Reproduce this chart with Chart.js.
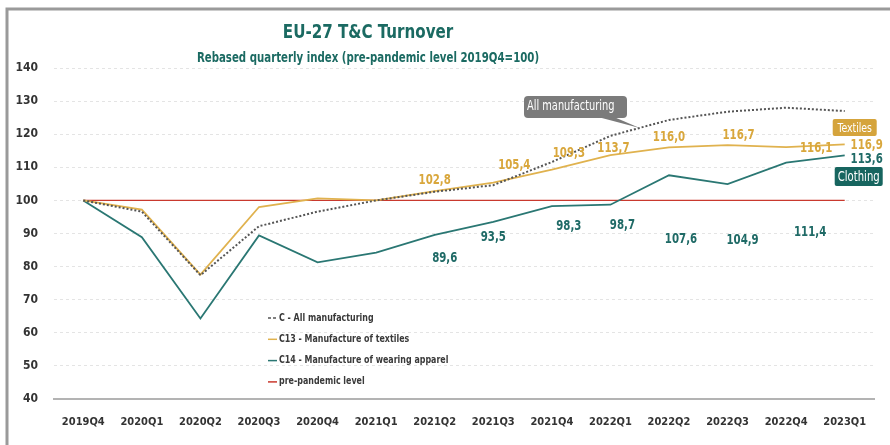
<!DOCTYPE html>
<html lang="en">
<head>
    <meta charset="UTF-8">
    <title>EU-27 T&amp;C Turnover</title>
    <style>
        body { margin: 0; background: #fff; }
        #wrap { width: 890px; height: 445px; }
    </style>
</head>
<body>
    <div id="wrap">
        <canvas id="myChart" width="890" height="445"></canvas>
    </div>

    <script src="https://cdn.jsdelivr.net/npm/chart.js"></script>
    <script>
        // quarters on the x axis
        const quarters = ['2019Q4', '2020Q1', '2020Q2', '2020Q3', '2020Q4', '2021Q1', '2021Q2',
                          '2021Q3', '2021Q4', '2022Q1', '2022Q2', '2022Q3', '2022Q4', '2023Q1'];

        // rebased index values (2019Q4 = 100)
        const allManufacturing = [100, 96.6, 77.4, 92.2, 96.6, 100.0, 102.6, 104.6, 111.6, 119.5, 124.3, 126.8, 128.0, 127.0];
        const textiles = [100, 97.2, 77.6, 98.0, 100.6, 100.0, 102.8, 105.4, 109.3, 113.7, 116.0, 116.7, 116.1, 116.9];
        const clothing = [100, 88.9, 64.3, 89.4, 81.3, 84.2, 89.6, 93.5, 98.3, 98.7, 107.6, 104.9, 111.4, 113.6];
        const prePandemic = [100, 100, 100, 100, 100, 100, 100, 100, 100, 100, 100, 100, 100, 100];

        const yTicks = [40, 50, 60, 70, 80, 90, 100, 110, 120, 130, 140];

        // which points get a value label, and where the label sits relative to the point
        const labelFrom = 6;
        const textileLabelShift = [[0, -11], [21, -17], [17, -16], [3, -7], [0, -10], [11, -10], [30, 1], [22, 1]];
        const clothingLabelShift = [[10, 24], [0, 16], [17, 20], [12, 21], [12, 64], [15, 56], [24, 70], [22, 4]];

        const FONT = "'DejaVu Sans Condensed', 'Liberation Sans', sans-serif";
        const TEAL = '#2a7773';
        const GOLD = '#e0b24e';
        const GREY = '#555555';
        const RED = '#c9392e';

        Chart.defaults.font.family = FONT;

        const fmt = v => v.toFixed(1).replace('.', ',');

        // squeeze text horizontally so it reads like a narrow face
        const say = (c, text, x, y, sx = 0.84) => {
            c.save();
            c.translate(x, y);
            c.scale(sx, 1);
            c.fillText(text, 0, 0);
            c.restore();
        };

        const decor = {
            id: 'decor',
            beforeDraw(chart) {
                const c = chart.ctx;
                c.save();
                c.fillStyle = '#fff';
                c.fillRect(0, 0, chart.width, chart.height);
                // frame
                c.strokeStyle = '#9a9a9a';
                c.lineWidth = 3;
                c.beginPath();
                c.moveTo(7, chart.height);
                c.lineTo(7, 9);
                c.lineTo(chart.width, 9);
                c.stroke();
                c.restore();
            },
            afterDatasetsDraw(chart) {
                const c = chart.ctx;
                const ds = chart.data.datasets;
                const ptsAll = chart.getDatasetMeta(0).data;
                const ptsTex = chart.getDatasetMeta(1).data;
                const ptsClo = chart.getDatasetMeta(2).data;
                c.save();

                // title
                c.textAlign = 'center';
                c.textBaseline = 'middle';
                c.fillStyle = '#1b6a62';
                c.font = `bold 20px ${FONT}`;
                say(c, 'EU-27 T&C Turnover', 368, 33);
                c.font = `bold 13.5px ${FONT}`;
                say(c, 'Rebased quarterly index (pre-pandemic level 2019Q4=100)', 368, 58);

                // value labels
                c.font = `bold 13.5px ${FONT}`;
                for (let i = labelFrom; i < quarters.length; i++) {
                    const k = i - labelFrom;
                    let p = ptsTex[i];
                    c.fillStyle = '#d9a73c';
                    say(c, fmt(textiles[i]), p.x + textileLabelShift[k][0], p.y + textileLabelShift[k][1]);
                    p = ptsClo[i];
                    c.fillStyle = '#1f6a66';
                    say(c, fmt(clothing[i]), p.x + clothingLabelShift[k][0], p.y + clothingLabelShift[k][1]);
                }

                // series tags at the right end
                const last = quarters.length - 1;
                const tag = (text, cx, cy, w, h, bg) => {
                    c.fillStyle = bg;
                    c.beginPath();
                    c.roundRect(cx - w / 2, cy - h / 2, w, h, 2);
                    c.fill();
                    c.fillStyle = '#fff';
                    say(c, text, cx, cy + 1, 0.8);
                };
                c.font = `13px ${FONT}`;
                tag('Textiles', ptsTex[last].x + 10, ptsTex[last].y - 17, 44, 17, '#d5a43c');
                c.font = `14px ${FONT}`;
                tag('Clothing', ptsClo[last].x + 14, ptsClo[last].y + 21, 48, 19, '#17655f');

                // callout for the all-manufacturing series
                const a = ptsAll[9], b = ptsAll[10];
                const tipX = (a.x + b.x) / 2, tipY = (a.y + b.y) / 2;
                c.fillStyle = '#7b7b7b';
                c.beginPath();
                c.roundRect(524, 96, 103, 22, 4);
                c.fill();
                c.beginPath();
                c.moveTo(598, 117);
                c.lineTo(tipX, tipY);
                c.lineTo(614, 117);
                c.closePath();
                c.fill();
                c.fillStyle = '#fff';
                c.font = `14px ${FONT}`;
                c.textAlign = 'left';
                say(c, 'All manufacturing', 527, 106, 0.78);

                // legend
                c.font = `bold 10px ${FONT}`;
                c.textAlign = 'left';
                ds.forEach((d, i) => {
                    const y = 318 + i * 21.3;
                    c.strokeStyle = d.borderColor;
                    c.lineWidth = 1.5;
                    c.setLineDash(d.borderDash ? [3, 2] : []);
                    c.beginPath();
                    c.moveTo(268, y);
                    c.lineTo(277, y);
                    c.stroke();
                    c.setLineDash([]);
                    c.fillStyle = '#3a3a3a';
                    say(c, d.label, 279, y, 0.88);
                });

                c.restore();
            }
        };

        const ctx = document.getElementById('myChart');

        const datasets = [
            {
                label: 'C - All manufacturing',
                data: allManufacturing,
                borderColor: GREY,
                borderDash: [2, 2],
                borderWidth: 2,
            },
            {
                label: 'C13 - Manufacture of textiles',
                data: textiles,
                borderColor: GOLD,
                borderWidth: 1.8,
            },
            {
                label: 'C14 - Manufacture of wearing apparel',
                data: clothing,
                borderColor: TEAL,
                borderWidth: 1.8,
            },
            {
                label: 'pre-pandemic level',
                data: prePandemic,
                borderColor: RED,
                borderWidth: 1.4,
            },
        ];

        const chart = new Chart(ctx, {
            type: 'line',
            data: {
                labels: quarters,
                datasets: datasets,
            },
            options: {
                responsive: false,
                animation: false,
                layout: {
                    padding: { left: 0, right: 16, top: 68, bottom: 0 },
                },
                elements: {
                    point: { radius: 0 },
                    line: { tension: 0, fill: false },
                },
                scales: {
                    x: {
                        offset: true,
                        grid: { display: false },
                        border: { display: true, color: '#b3b3b3', width: 2 },
                        ticks: {
                            color: '#333',
                            font: { size: 11, weight: 'bold' },
                            maxRotation: 0,
                            autoSkip: false,
                            padding: 9,
                        },
                        afterFit(scale) { scale.height = 46; },
                    },
                    y: {
                        min: yTicks[0],
                        max: yTicks[yTicks.length - 1],
                        afterBuildTicks(scale) { scale.ticks = yTicks.map(v => ({ value: v })); },
                        grid: {
                            drawTicks: false,
                            color: c => c.tick && c.tick.value === yTicks[0] ? 'rgba(0,0,0,0)' : '#e4e4e4',
                        },
                        border: { display: false, dash: [3, 3] },
                        ticks: {
                            color: '#333',
                            font: { size: 12, weight: 'bold' },
                            padding: 16,
                        },
                        afterFit(scale) { scale.width = 54; },
                    },
                },
                plugins: {
                    legend: { display: false },
                    title: { display: false },
                    tooltip: { enabled: false },
                },
            },
            plugins: [decor],
        });
    </script>
</body>
</html>
